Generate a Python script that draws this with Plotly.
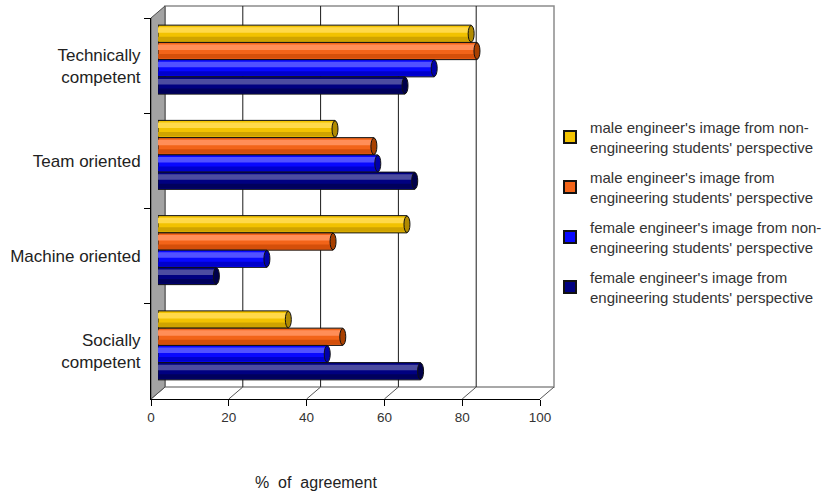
import plotly.graph_objects as go

# ---- data -------------------------------------------------------------
categories = ["Technically<br>competent", "Team oriented", "Machine oriented", "Socially<br>competent"]

series_names = [
    "male engineer's image from non-<br>engineering students' perspective",
    "male engineer's image from<br>engineering students' perspective",
    "female engineer's image from non-<br>engineering students' perspective",
    "female engineer's image from<br>engineering students' perspective",
]

male_non_eng = [80.5, 45.5, 64, 33.5]
male_eng = [82, 55.5, 45, 47.5]
female_non_eng = [71, 56.5, 28, 43.5]
female_eng = [63.5, 66, 15, 67.5]

x_ticks = [0, 20, 40, 60, 80, 100]

# ---- styling ----------------------------------------------------------
W, H = 827, 492
# base, highlight, shadow, end-cap colours of each cylinder series
palette = [
    ("#f2c200", "#ffd94a", "#cfa300", "#b08a00"),
    ("#f26419", "#ff8e58", "#d44f0a", "#a84000"),
    ("#0808ff", "#5252ff", "#0000cc", "#0000a8"),
    ("#000080", "#4c4ca0", "#00005c", "#00004a"),
]

# 3D frame geometry (pixels)
FL, FR, FT, FB = 151, 540, 18, 399    # front frame
DX, DY = 14, -12                      # depth offset of the back wall
SCALE = (FR - FL) / 100.0


def px(p):
    return p / W


def py(p):
    return 1 - p / H


fig = go.Figure()

# invisible trace so the front category axis gets its labels
fig.add_trace(go.Scatter(x=[0] * len(categories), y=categories, mode="markers",
                         marker=dict(opacity=0), showlegend=False,
                         hoverinfo="skip", xaxis="x", yaxis="y"))

values = [male_non_eng, male_eng, female_non_eng, female_eng]
n = len(values)
group = 0.724
w = group / n
shapes = []

# ---- walls, floor and grid -------------------------------------------
# back wall
shapes.append(dict(type="rect", xref="paper", yref="paper",
                   x0=px(FL + DX), x1=px(FR + DX), y0=py(FB + DY), y1=py(FT + DY),
                   fillcolor="white", line=dict(color="#8c8c8c", width=1.5), layer="below"))
# vertical grid lines on the back wall
for t in x_ticks[1:-1]:
    xg = FL + DX + t * SCALE
    shapes.append(dict(type="line", xref="paper", yref="paper",
                       x0=px(xg), x1=px(xg), y0=py(FB + DY), y1=py(FT + DY),
                       line=dict(color="#1a1a1a", width=1), layer="below"))
# floor lines from the front axis to the back wall
for t in x_ticks:
    xf = FL + t * SCALE
    shapes.append(dict(type="line", xref="paper", yref="paper",
                       x0=px(xf), x1=px(xf + DX), y0=py(FB), y1=py(FB + DY),
                       line=dict(color="#555555", width=1), layer="below"))
# left side wall
side_path = (f"M {px(FL)},{py(FT)} L {px(FL + DX)},{py(FT + DY)} "
             f"L {px(FL + DX)},{py(FB + DY)} L {px(FL)},{py(FB)} Z")
shapes.append(dict(type="path", xref="paper", yref="paper", path=side_path,
                   fillcolor="#a3a3a3", line=dict(color="#4d4d4d", width=1), layer="below"))

# ---- cylinders --------------------------------------------------------
cap_dx = 3.0 / SCALE   # half-width of the elliptical end caps, in data units
for i, (vals, name, (base, hi, sh, cap)) in enumerate(zip(values, series_names, palette)):
    off = -group / 2 + i * w
    grp = f"s{i}"
    fig.add_trace(go.Bar(
        x=vals, y=categories, orientation="h", name=name,
        offset=off, width=w, legendgroup=grp,
        marker=dict(color=base, line=dict(color="#111111", width=1)),
        xaxis="x2", yaxis="y2", hoverinfo="x+name",
    ))
    fig.add_trace(go.Bar(
        x=vals, y=categories, orientation="h", showlegend=False,
        offset=off + 0.12 * w, width=0.32 * w, legendgroup=grp,
        marker=dict(color=hi, line=dict(width=0)),
        xaxis="x2", yaxis="y2", hoverinfo="skip",
    ))
    fig.add_trace(go.Bar(
        x=vals, y=categories, orientation="h", showlegend=False,
        offset=off + 0.68 * w, width=0.26 * w, legendgroup=grp,
        marker=dict(color=sh, line=dict(width=0)),
        xaxis="x2", yaxis="y2", hoverinfo="skip",
    ))
    for k, v in enumerate(vals):
        y0, y1 = k + off + 0.02 * w, k + off + 0.98 * w
        # rounded left end
        shapes.append(dict(type="circle", xref="x2", yref="y2",
                           x0=-cap_dx, x1=cap_dx, y0=y0, y1=y1,
                           fillcolor=base, line=dict(color="#111111", width=1), layer="below"))
        # darker right end cap
        shapes.append(dict(type="circle", xref="x2", yref="y2",
                           x0=v - cap_dx, x1=v + cap_dx, y0=y0, y1=y1,
                           fillcolor=cap, line=dict(color="#111111", width=1), layer="above"))

band_range = [len(categories) - 0.5, -0.5]

fig.update_layout(
    width=W, height=H,
    margin=dict(l=0, r=0, t=0, b=0, autoexpand=False),
    paper_bgcolor="white", plot_bgcolor="rgba(0,0,0,0)",
    barmode="overlay",
    font=dict(family="Liberation Sans, Arial, sans-serif", color="#222222"),
    showlegend=True,
    legend=dict(x=px(550), y=py(111), xanchor="left", yanchor="top",
                font=dict(size=15, color="#333333"),
                traceorder="grouped", tracegroupgap=8,
                bgcolor="rgba(0,0,0,0)", itemsizing="constant"),
    xaxis=dict(domain=[px(FL), px(FR)], range=[0, 100], anchor="y",
               tickvals=x_ticks, ticks="outside", ticklen=6, tickcolor="black",
               showline=True, linecolor="black", linewidth=1,
               showgrid=False, zeroline=False,
               tickfont=dict(size=13.5, color="#333333"), fixedrange=True),
    yaxis=dict(domain=[py(FB), py(FT)], type="category", categoryarray=categories,
               categoryorder="array", range=band_range, anchor="x",
               ticks="outside", tickson="boundaries", ticklen=6, tickcolor="black",
               showline=True, linecolor="black", linewidth=1,
               showgrid=False, zeroline=False, ticklabelstandoff=6,
               tickfont=dict(size=17, color="#222222"), fixedrange=True),
    xaxis2=dict(domain=[px(FL + DX / 2), px(FR + DX / 2)], range=[0, 100],
                anchor="y2", visible=False, fixedrange=True),
    yaxis2=dict(domain=[py(FB + DY / 2), py(FT + DY / 2)], type="category",
                categoryarray=categories, categoryorder="array",
                range=band_range, anchor="x2", visible=False, fixedrange=True),
    shapes=shapes,
    annotations=[dict(text="%  of  agreement", x=px(316), y=py(482), xref="paper", yref="paper",
                      xanchor="center", yanchor="middle", showarrow=False,
                      font=dict(size=16, color="#222222"))],
)

fig.write_html("out.html")
